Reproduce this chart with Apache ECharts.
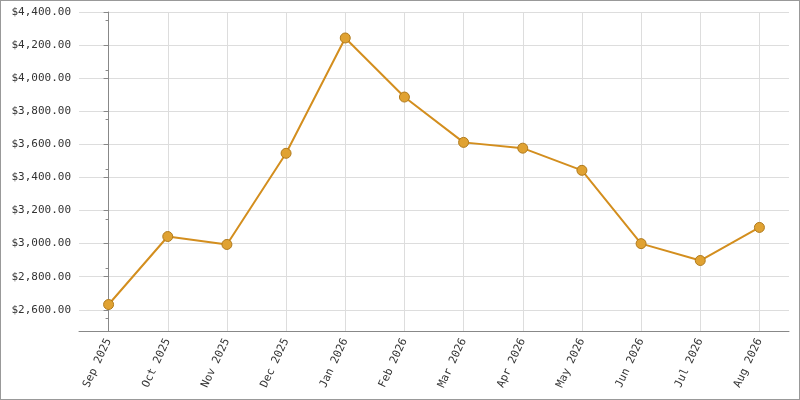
<!DOCTYPE html><html><head><meta charset="utf-8">
<script src="https://cdn.jsdelivr.net/npm/echarts@6/dist/echarts.min.js"></script>
<style>html,body{margin:0;padding:0}#c{width:798px;height:398px;border:1px solid #999}</style>
</head><body><div id="c"></div><script>
var categories=['Sep 2025','Oct 2025','Nov 2025','Dec 2025','Jan 2026','Feb 2026','Mar 2026','Apr 2026','May 2026','Jun 2026','Jul 2026','Aug 2026'];
var values=[2632,3043,2995,3546,4243,3886,3612,3577,3443,3000,2898,3098];
var yTicks=[2600,2800,3000,3200,3400,3600,3800,4000,4200,4400];
var ch=echarts.init(document.getElementById('c'));
var f='DejaVu Sans Mono';
ch.setOption({
 animation:false,
 grid:{left:78,right:10,top:11,bottom:68},
 xAxis:[{type:'category',data:categories,boundaryGap:true,
  axisLine:{lineStyle:{color:'#888'}},
  axisTick:{alignWithLabel:true,lineStyle:{color:'#888'}},
  axisLabel:{rotate:65,color:'#333',fontFamily:f,fontSize:11,interval:0,margin:8},
  splitLine:{show:false}},
 {type:'value',min:-0.5,max:11.5,position:'bottom',
  axisLine:{show:false},axisLabel:{show:false},
  axisTick:{show:false,customValues:categories.map(function(c,i){return i;})},
  splitLine:{show:true,lineStyle:{color:'#ddd'}}}],
 yAxis:{type:'value',min:2472,max:4400,
  axisLine:{show:true,lineStyle:{color:'#888'}},
  axisTick:{show:true,customValues:yTicks,lineStyle:{color:'#888'}},
  minorTick:{show:true,splitNumber:2,lineStyle:{color:'#888'}},
  axisLabel:{customValues:yTicks,color:'#333',fontFamily:f,fontSize:11,
   formatter:function(v){return '$'+v.toLocaleString('en-US',{minimumFractionDigits:2,maximumFractionDigits:2});}},
  splitLine:{show:true,lineStyle:{color:'#ddd'}}},
 series:[{type:'line',data:values,symbol:'circle',symbolSize:10,
  lineStyle:{color:'#d38e1e',width:2},
  itemStyle:{color:'#e0a232',borderColor:'#b07a1c',borderWidth:1}}]
});
</script></body></html>
